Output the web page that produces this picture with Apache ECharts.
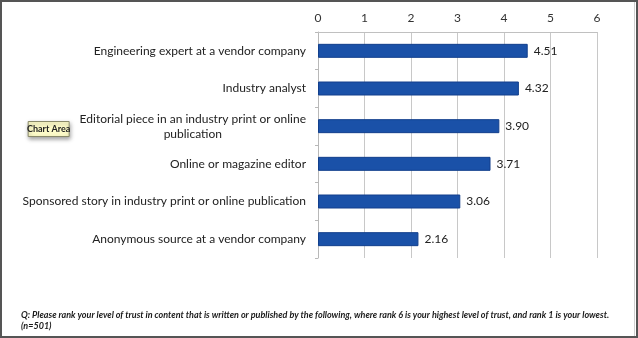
<!DOCTYPE html>
<html>
<head>
<meta charset="utf-8">
<script src="https://cdn.jsdelivr.net/npm/echarts@6/dist/echarts.min.js"></script>
<style>
  html, body { margin: 0; padding: 0; background: #fff; }
  #chart { width: 638px; height: 338px; }
</style>
</head>
<body>
<div id="chart"></div>
<script>
// Sources, top to bottom
var categories = [
  'Engineering expert at a vendor company',
  'Industry analyst',
  'Editorial piece in an industry print or online\npublication',
  'Online or magazine editor',
  'Sponsored story in industry print or online publication',
  'Anonymous source at a vendor company'
];
// Mean trust rank per source
var trustScores = [4.51, 4.32, 3.90, 3.71, 3.06, 2.16];
// Value axis ticks
var axisTicks = [0, 1, 2, 3, 4, 5, 6];

var footnote = 'Q: Please rank your level of trust in content that is written or published by the following, where rank 6 is your highest level of trust, and rank 1 is your lowest.\n(n=501)';

var FONT = 'Lato, "Open Sans", sans-serif';

var chart = echarts.init(document.getElementById('chart'), null, { renderer: 'canvas' });

chart.setOption({
  animation: false,
  backgroundColor: '#ffffff',
  grid: { left: 318, right: 41, top: 32, bottom: 80, containLabel: false },
  xAxis: {
    type: 'value',
    position: 'top',
    min: axisTicks[0],
    max: axisTicks[axisTicks.length - 1],
    interval: 1,
    axisLine: { show: true, lineStyle: { color: '#c0c0c0', width: 1 } },
    axisTick: { show: false },
    axisLabel: { color: '#333', fontFamily: FONT, fontSize: 12, margin: 8 },
    splitLine: { show: true, lineStyle: { color: '#c8c8c8', width: 1 } }
  },
  yAxis: {
    type: 'category',
    inverse: true,
    data: categories,
    axisLine: { show: true, lineStyle: { color: '#b8b8b8', width: 1 } },
    axisTick: { show: true, length: 3, lineStyle: { color: '#b8b8b8' } },
    axisLabel: {
      color: '#222',
      fontFamily: FONT,
      fontSize: 12,
      margin: 12,
      lineHeight: 15,
      formatter: function (v) {
        var lines = v.split('\n');
        return lines.map(function (l) { return '{c|' + l + '}'; }).join('\n');
      },
      rich: {
        c: { align: 'center', color: '#222', fontFamily: FONT, fontSize: 12, lineHeight: 15 }
      }
    }
  },
  series: [{
    type: 'bar',
    data: trustScores,
    barWidth: 14,
    itemStyle: { color: '#1a51a8', borderColor: '#123f8c', borderWidth: 1 },
    label: {
      show: true,
      position: 'right',
      distance: 6,
      color: '#222',
      fontFamily: FONT,
      fontSize: 12,
      formatter: function (p) { return p.value.toFixed(2); }
    }
  }],
  graphic: [
    // outer frame
    {
      type: 'rect',
      shape: { x: 1, y: 1, width: 636, height: 336 },
      style: { fill: 'none', stroke: '#555', lineWidth: 2 },
      silent: true
    },
    {
      type: 'line',
      shape: { x1: 634.5, y1: 2, x2: 634.5, y2: 336 },
      style: { stroke: '#d0d0d0', lineWidth: 1 },
      silent: true
    },
    // hover tag
    {
      type: 'group',
      left: 27,
      top: 121,
      children: [
        {
          type: 'rect',
          shape: { x: 0, y: 0, width: 41, height: 15 },
          style: {
            fill: '#fdfbc8', stroke: '#8a8a6a', lineWidth: 1,
            shadowBlur: 4, shadowOffsetX: 1, shadowOffsetY: 2, shadowColor: 'rgba(0,0,0,0.35)'
          }
        },
        {
          type: 'text',
          x: 20.5, y: 7.5,
          style: {
            text: 'Chart Area', fill: '#222', font: 'bold 9px ' + FONT,
            align: 'center', verticalAlign: 'middle'
          }
        }
      ]
    },
    // survey question
    {
      type: 'text',
      left: 21,
      top: 310,
      style: {
        text: footnote,
        fill: '#1a1a1a',
        font: 'italic bold 9px ' + FONT,
        lineHeight: 11
      }
    }
  ]
});
</script>
</body>
</html>
